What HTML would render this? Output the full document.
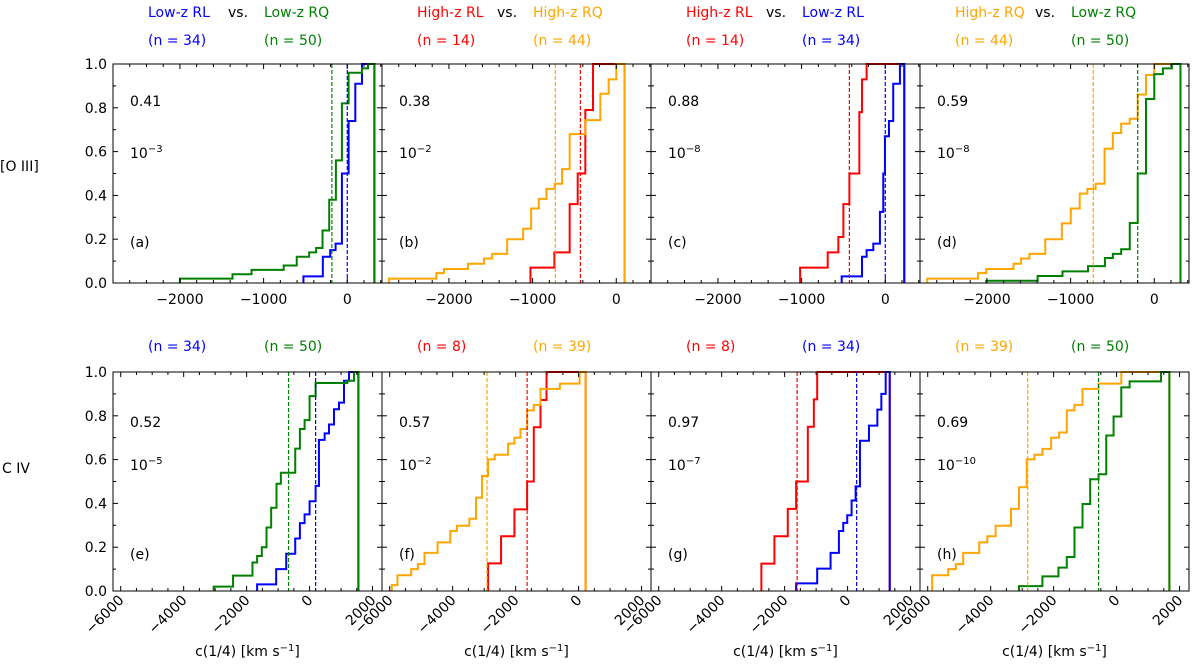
<!DOCTYPE html>
<html><head><meta charset="utf-8"><style>
html,body{margin:0;padding:0;background:#fff;}
svg{display:block;font-family:"DejaVu Sans","Liberation Sans",sans-serif;}
</style></head><body>
<svg id="fig" width="1200" height="664" viewBox="0 0 1200 664" xmlns="http://www.w3.org/2000/svg"></svg>
<script>
// ---------- data ----------
const a_green_x=[-2000,-1372,-1144,-760,-604,-456,-372,-296,-216,-136,-64,16,176,248];
const a_green_y=[0.02,0.04,0.06,0.08,0.12,0.14,0.16,0.24,0.38,0.56,0.82,0.96,0.98,1.0];
const a_blue_x=[-524,-292,-204,-140,-64,16,96,176];
const a_blue_y=[0.03,0.12,0.15,0.18,0.5,0.74,0.91,1.0];
const b_orange_x=[-2716,-2151,-2060,-1773,-1582,-1483,-1304,-1113,-1018,-926,-835,-736,-648,-557,-370,-191,-91,0];
const b_orange_y=[0.02,0.045,0.064,0.088,0.112,0.133,0.2,0.248,0.34,0.384,0.43,0.453,0.52,0.68,0.744,0.864,0.93,1.0];
const b_red_x=[-1026,-740,-557,-461,-370,-278];
const b_red_y=[0.07,0.14,0.36,0.5,0.79,1.0];
const c_red_x=[-1018,-688,-561,-501,-429,-310,-278,-223];
const c_red_y=[0.07,0.14,0.21,0.36,0.5,0.78,0.93,1.0];
const c_blue_x=[-521,-278,-223,-143,-64,-24,-4,44,95,175];
const c_blue_y=[0.03,0.12,0.15,0.18,0.325,0.5,0.67,0.74,0.91,1.0];
const d_orange_x=[-2713,-2107,-2008,-1683,-1592,-1493,-1303,-1105,-998,-891,-800,-701,-594,-495,-396,-293,-198,-99,0];
const d_orange_y=[0.02,0.045,0.064,0.088,0.112,0.133,0.2,0.272,0.34,0.408,0.43,0.453,0.613,0.685,0.728,0.75,0.861,0.95,1.0];
const d_green_x=[-2008,-1394,-1097,-792,-590,-495,-396,-293,-198,-99,0,103,210];
const d_green_y=[0.01,0.032,0.053,0.077,0.114,0.133,0.154,0.274,0.5,0.84,0.954,0.98,1.0];
const e_green_x=[-3047,-2431,-1815,-1667,-1518,-1369,-1221,-1051,-913,-456,-308,-159,0,191,1200,1412];
const e_green_y=[0.02,0.07,0.13,0.16,0.2,0.29,0.38,0.49,0.54,0.65,0.74,0.78,0.89,0.95,0.96,1.0];
const e_blue_x=[-1667,-1062,-743,-456,-308,-159,0,191,297,478,616,775,934,1093,1253];
const e_blue_y=[0.03,0.1,0.17,0.24,0.31,0.35,0.41,0.48,0.69,0.72,0.76,0.83,0.86,0.96,1.0];
const f_orange_x=[-5934,-5754,-5318,-5106,-4894,-4480,-4076,-3864,-3471,-3259,-3068,-2877,-2665,-2240,-2038,-1847,-1635,-1423,-1210,-595,32];
const f_orange_y=[0.027,0.072,0.1,0.123,0.174,0.222,0.274,0.298,0.33,0.426,0.525,0.601,0.622,0.673,0.7,0.74,0.825,0.85,0.923,0.947,1.0];
const f_red_x=[-2877,-2463,-2038,-1635,-1423,-1210,-1019];
const f_red_y=[0.126,0.25,0.373,0.5,0.748,0.872,1.0];
const g_red_x=[-2739,-2325,-1900,-1635,-1263,-1072,-966];
const g_red_y=[0.125,0.25,0.375,0.5,0.75,0.875,1.0];
const g_blue_x=[-1635,-966,-541,-276,-138,-11,127,255,393,679,945,1072,1210];
const g_blue_y=[0.035,0.102,0.174,0.274,0.311,0.346,0.413,0.478,0.686,0.755,0.828,0.9,1.0];
const h_orange_x=[-5860,-5350,-5106,-4873,-4363,-4108,-3843,-3355,-3100,-2856,-2611,-2357,-2081,-1826,-1582,-1338,-1083,-573,149];
const h_orange_y=[0.072,0.1,0.123,0.174,0.222,0.25,0.298,0.375,0.474,0.601,0.622,0.649,0.7,0.724,0.825,0.85,0.923,0.947,1.0];
const h_green_x=[-3100,-2357,-1847,-1582,-1338,-1083,-839,-573,-329,-96,149,414,1412];
const h_green_y=[0.022,0.067,0.107,0.155,0.29,0.397,0.51,0.533,0.71,0.797,0.93,0.957,1.0];
const last_edge=[324,99,227,313,1550,223,1338,1677];
const medians_top=[[-184,0],[-728,-429],[-429,0],[-729,-198]];
const medians_bot=[[-669,191],[-2909,-1635],[-1603,287],[-2824,-573]];
const ks_d=["0.41","0.38","0.88","0.59","0.52","0.57","0.97","0.69"];
const ks_p=["-3","-2","-8","-8","-5","-2","-7","-10"];
const panel_letters=["(a)","(b)","(c)","(d)","(e)","(f)","(g)","(h)"];
const yticks=[0,0.2,0.4,0.6,0.8,1.0];
const xticks_top=[-2000,-1000,0];
const xticks_bot=[-6000,-4000,-2000,0,2000];

// ---------- layout ----------
const C={blue:"#0000ff",green:"#008000",red:"#ff0000",orange:"#ffa500"};
const svg=document.getElementById('fig');
const NS="http://www.w3.org/2000/svg";
function mk(tag,attrs,parent){const e=document.createElementNS(NS,tag);for(const k in attrs)e.setAttribute(k,attrs[k]);(parent||svg).appendChild(e);return e;}
const colL=[113,382,651,920], PW=269;
const rows=[{top:64,bot:283,xmin:-2800,xmax:415,maj:1000,min:200,ticks:xticks_top},
            {top:372,bot:591,xmin:-6245,xmax:2300,maj:2000,min:500,ticks:xticks_bot}];
const series=[
 [[a_blue_x,a_blue_y,'blue'],[a_green_x,a_green_y,'green']],
 [[b_red_x,b_red_y,'red'],[b_orange_x,b_orange_y,'orange']],
 [[c_red_x,c_red_y,'red'],[c_blue_x,c_blue_y,'blue']],
 [[d_orange_x,d_orange_y,'orange'],[d_green_x,d_green_y,'green']],
 [[e_blue_x,e_blue_y,'blue'],[e_green_x,e_green_y,'green']],
 [[f_red_x,f_red_y,'red'],[f_orange_x,f_orange_y,'orange']],
 [[g_red_x,g_red_y,'red'],[g_blue_x,g_blue_y,'blue']],
 [[h_orange_x,h_orange_y,'orange'],[h_green_x,h_green_y,'green']]];
const medColors=[['green','blue'],['orange','red'],['red','blue'],['orange','green']];
const headers=[[['Low-z RL','blue'],['Low-z RQ','green']],[['High-z RL','red'],['High-z RQ','orange']],
               [['High-z RL','red'],['Low-z RL','blue']],[['High-z RQ','orange'],['Low-z RQ','green']]];
const nTop=[['34','50'],['14','44'],['14','34'],['44','50']];
const nBot=[['34','50'],['8','39'],['8','34'],['39','50']];
const FS=14;

for(let p=0;p<8;p++){
  const r=rows[p<4?0:1], L=colL[p%4], R=L+PW;
  const sx=v=>L+(v-r.xmin)/(r.xmax-r.xmin)*PW;
  const sy=v=>r.bot-v*(r.bot-r.top);
  const g=mk('g',{});
  
  
  const end=last_edge[p];
  for(const s of series[p]){
    const [xs,ys,col]=s;
    let d='M'+sx(xs[0])+','+sy(0);
    for(let i=0;i<xs.length;i++){d+=' L'+sx(xs[i])+','+sy(ys[i]);if(i+1<xs.length)d+=' L'+sx(xs[i+1])+','+sy(ys[i]);}
    d+=' L'+sx(end)+','+sy(ys[ys.length-1])+' L'+sx(end)+','+sy(0);
    const e=mk('path',{d:d,fill:'none',stroke:C[col],'stroke-width':2},g);
    
    
  }
  const med=(p<4?medians_top:medians_bot)[p%4];
  med.forEach((m,i)=>{
    const e=mk('line',{x1:sx(m),x2:sx(m),y1:r.top,y2:r.bot,stroke:C[medColors[p%4][i]],'stroke-width':1.2,'stroke-dasharray':'4,2'},g);
    
    
  });
  const fr=mk('rect',{x:L,y:r.top,width:PW,height:r.bot-r.top,fill:'none',stroke:'#000','stroke-width':1},g);
  
  
  for(let k=0;k<=10;k++){const v=k/10,len=(k%2==0)?5:3,y=sy(v);
    mk('line',{x1:L,x2:L+len,y1:y,y2:y,stroke:'#000'},g);mk('line',{x1:R,x2:R-len,y1:y,y2:y,stroke:'#000'},g);}
  if(p%4==0){yticks.forEach(v=>{const t=mk('text',{x:L-6,y:sy(v)+5,'text-anchor':'end','font-size':FS},g);t.textContent=v.toFixed(1);
    });}
  for(let v=Math.ceil(r.xmin/r.min)*r.min;v<=r.xmax;v+=r.min){const len=(v%r.maj==0)?5:3,x=sx(v);
    mk('line',{x1:x,x2:x,y1:r.bot,y2:r.bot-len,stroke:'#000'},g);mk('line',{x1:x,x2:x,y1:r.top,y2:r.top+len,stroke:'#000'},g);}
  r.ticks.forEach(v=>{const x=sx(v);let t;
    const lab=(v<0?'\u2212':'')+Math.abs(v);
    if(p<4){t=mk('text',{x:x,y:r.bot+21,'text-anchor':'middle','font-size':FS},g);}
    else{t=mk('text',{x:x+4,y:r.bot+10,'text-anchor':'end','font-size':FS,transform:'rotate(-45 '+(x+4)+' '+(r.bot+10)+')'},g);}
    t.textContent=lab;});
  const yb=p<4?[106,158,247]:[427,470,559];
  let t=mk('text',{x:L+17,y:yb[0],'font-size':FS},g);t.textContent=ks_d[p];
  
  t=mk('text',{x:L+17,y:yb[1],'font-size':FS},g);t.textContent='10';
  const ts=document.createElementNS(NS,'tspan');ts.setAttribute('dy','-6');ts.setAttribute('font-size','10');ts.textContent='\u2212'+ks_p[p].slice(1);t.appendChild(ts);
  
  t=mk('text',{x:L+17,y:yb[2],'font-size':FS},g);t.textContent=panel_letters[p];
  
  if(p<4){
    const h=headers[p];
    t=mk('text',{x:L+35,y:17,'font-size':14,fill:C[h[0][1]]},g);t.textContent=h[0][0];
    
    t=mk('text',{x:L+115,y:17,'font-size':14,fill:'#000'},g);t.textContent='vs.';
    
    t=mk('text',{x:L+151,y:17,'font-size':14,fill:C[h[1][1]]},g);t.textContent=h[1][0];
    
  }
  const nn=(p<4?nTop:nBot)[p%4], cols=headers[p%4];
  const ny=p<4?45:351;
  t=mk('text',{x:L+35,y:ny,'font-size':14,fill:C[cols[0][1]]},g);t.textContent='(n = '+nn[0]+')';
  
  t=mk('text',{x:L+151,y:ny,'font-size':14,fill:C[cols[1][1]]},g);t.textContent='(n = '+nn[1]+')';
  
  if(p>=4){
    t=mk('text',{x:L+PW/2,y:656,'text-anchor':'middle','font-size':FS},g);t.textContent='c(1/4) [km s';
    const s2=document.createElementNS(NS,'tspan');s2.setAttribute('dy','-5');s2.setAttribute('font-size','10');s2.textContent='\u22121';t.appendChild(s2);
    const s3=document.createElementNS(NS,'tspan');s3.setAttribute('dy','5');s3.textContent=']';t.appendChild(s3);
    
  }
}
let rl=mk('text',{x:0,y:171,'font-size':FS});rl.textContent='[O III]';

rl=mk('text',{x:2,y:473,'font-size':FS});rl.textContent='C IV';

</script>
</body></html>
